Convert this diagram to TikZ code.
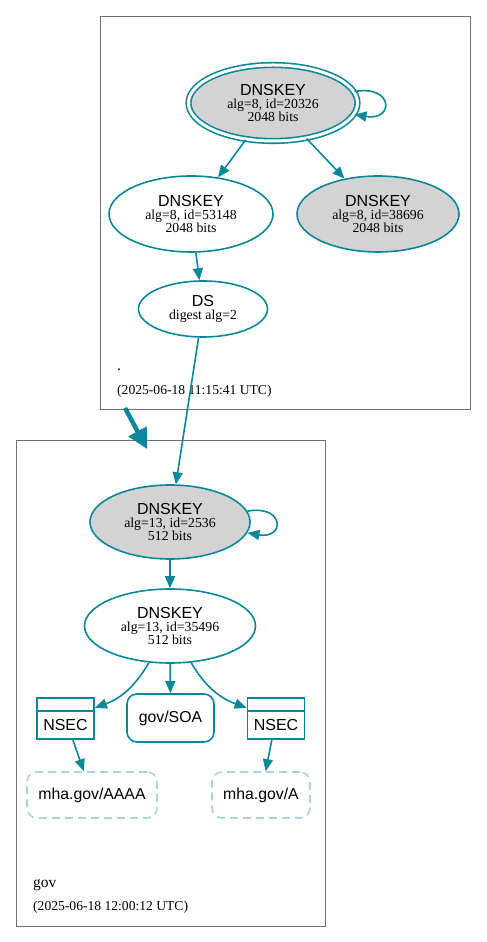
\documentclass[tikz,border=0pt]{standalone}
\usepackage{fontspec}
\setmainfont{Liberation Serif}
\setsansfont{Liberation Sans}
\usetikzlibrary{shapes.geometric,arrows.meta}

\definecolor{dnsteal}{HTML}{0A879A}
\definecolor{keygray}{HTML}{D3D3D3}
\definecolor{nsecblue}{HTML}{A8D4DF}
\definecolor{zoneline}{HTML}{707070}

\newcommand{\rrtype}[1]{{\sffamily\fontsize{16}{13}\selectfont #1}}

\tikzset{
  key/.style={shape=ellipse, draw=dnsteal, line width=1.6pt, inner sep=0pt,
    align=center, font=\fontsize{13.8}{13}\selectfont},
  sep/.style={key, fill=keygray},
  link/.style={draw=dnsteal, line width=1.6pt, -{Triangle[length=12pt,width=10pt]}},
  rrset/.style={shape=rectangle, rounded corners=10pt, draw=dnsteal, line width=1.6pt,
    minimum width=87pt, minimum height=48pt, font=\sffamily\fontsize{15.8}{18}\selectfont},
  missing/.style={rrset, draw=nsecblue, dash pattern=on 8pt off 5pt, minimum height=46pt},
  nsecbox/.style={shape=rectangle, draw=dnsteal, line width=1.8pt,
    minimum width=57pt, minimum height=41pt, text height=24.5pt, text depth=0pt,
    font=\sffamily\fontsize{16}{18}\selectfont,
    path picture={\draw[dnsteal, line width=1.8pt]
      ([yshift=-13pt]path picture bounding box.north west) --
      ([yshift=-13pt]path picture bounding box.north east);}},
  zone/.style={draw=zoneline, line width=0.8pt},
  zonename/.style={anchor=base west, inner sep=0pt, font=\fontsize{15.5}{18}\selectfont},
  zonetime/.style={anchor=base west, inner sep=0pt, font=\fontsize{13.6}{16}\selectfont}
}

\begin{document}
\begin{tikzpicture}[x=1pt,y=1pt]
  \useasboundingbox (0,0) rectangle (487,942);

  % zone boxes
  \draw[zone] (100,533) rectangle (470,926);
  \draw[zone] (16,16) rectangle (325,502);
  \node[zonename] (rootname) at (117,571) {.};
  \node[zonetime] (roottime) at (117,547) {(2025-06-18 11:15:41 UTC)};
  \node[zonename] (govname) at (33,54) {gov};
  \node[zonetime] (govtime) at (33,31) {(2025-06-18 12:00:12 UTC)};
  \coordinate (rootexit) at (125,534);
  \coordinate (goventer) at (147,493);

  % root zone
  \node[sep, double=white, double distance=3pt, minimum width=169pt, minimum height=76pt]
    (rootksk) at (273,839) {\rrtype{DNSKEY}\\alg=8, id=20326\\2048 bits};
  \node[key, minimum width=164pt, minimum height=76pt]
    (rootzsk) at (191,728) {\rrtype{DNSKEY}\\alg=8, id=53148\\2048 bits};
  \node[sep, minimum width=162pt, minimum height=76pt]
    (rootold) at (378,728) {\rrtype{DNSKEY}\\alg=8, id=38696\\2048 bits};
  \node[key, minimum width=129pt, minimum height=56pt]
    (govds) at (203,633) {\rrtype{DS}\\digest alg=2};

  % gov zone
  \node[sep, minimum width=160pt, minimum height=74pt]
    (govksk) at (170,420) {\rrtype{DNSKEY}\\alg=13, id=2536\\512 bits};
  \node[key, minimum width=171pt, minimum height=74pt]
    (govzsk) at (170,316) {\rrtype{DNSKEY}\\alg=13, id=35496\\512 bits};
  \node[nsecbox] (nsecaaaa) at (65.5,223.5) {NSEC};
  \node[rrset] (govsoa) at (170.5,224) {gov/SOA};
  \node[nsecbox] (nseca) at (276,223.5) {NSEC};
  \node[missing, minimum width=130pt] (mhaaaaa) at (92,147) {mha.gov/AAAA};
  \node[missing, minimum width=98pt] (mhaa) at (261,147) {mha.gov/A};

  \path (rootksk.8) edge[link, out=10, in=-10, looseness=4.5] (rootksk.-8);
  \path (rootksk) edge[link] (rootzsk);
  \path (rootksk) edge[link] (rootold);
  \path (rootzsk) edge[link] (govds);
  \path (govds) edge[link] (govksk);
  \path (rootexit) edge[link, line width=4.5pt, -{Triangle[length=20pt,width=20pt]}] (goventer);
  \path (govksk.8) edge[link, out=10, in=-10, looseness=4.5] (govksk.-8);
  \path (govksk) edge[link] (govzsk);
  \path (govzsk) edge[link, out=-120, in=20] (nsecaaaa);
  \path (govzsk) edge[link] (govsoa);
  \path (govzsk) edge[link, out=-60, in=160] (nseca);
  \path (nsecaaaa) edge[link] (mhaaaaa);
  \path (nseca) edge[link] (mhaa);

\end{tikzpicture}
\end{document}
